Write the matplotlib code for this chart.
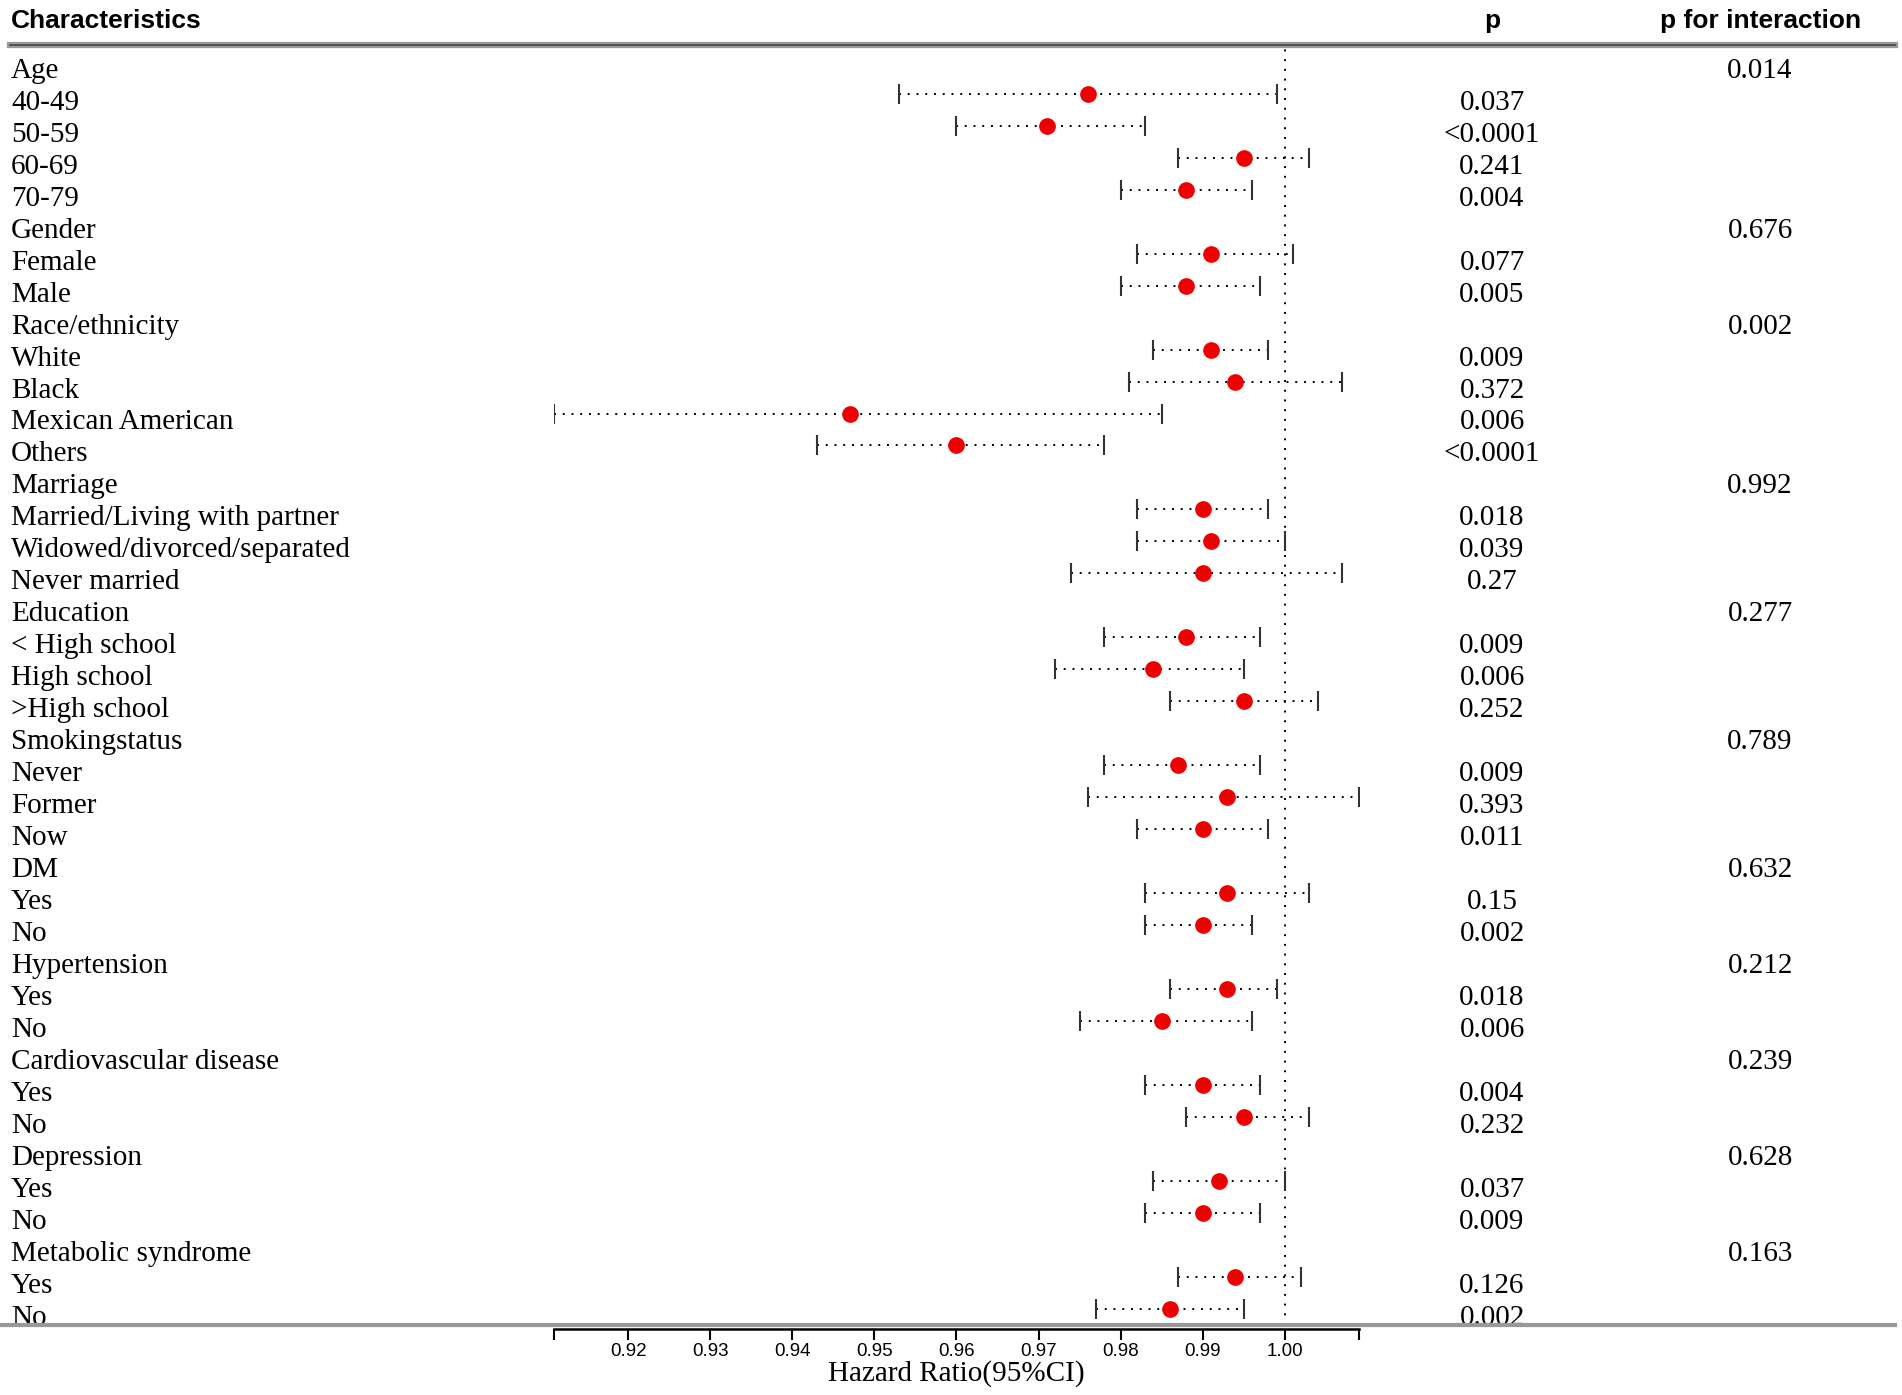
import numpy as np
import matplotlib
matplotlib.use("Agg")
import matplotlib.pyplot as plt
import matplotlib.transforms as mtransforms

labels = ["Age", "40-49", "50-59", "60-69", "70-79",
          "Gender", "Female", "Male",
          "Race/ethnicity", "White", "Black", "Mexican American", "Others",
          "Marriage", "Married/Living with partner", "Widowed/divorced/separated", "Never married",
          "Education", "< High school", "High school", ">High school",
          "Smokingstatus", "Never", "Former", "Now",
          "DM", "Yes", "No",
          "Hypertension", "Yes", "No",
          "Cardiovascular disease", "Yes", "No",
          "Depression", "Yes", "No",
          "Metabolic syndrome", "Yes", "No"]

# nan = header row (no estimate)
nan = np.nan
hr = [nan, 0.976, 0.971, 0.995, 0.988,
      nan, 0.991, 0.988,
      nan, 0.991, 0.994, 0.947, 0.960,
      nan, 0.990, 0.991, 0.990,
      nan, 0.988, 0.984, 0.995,
      nan, 0.987, 0.993, 0.990,
      nan, 0.993, 0.990,
      nan, 0.993, 0.985,
      nan, 0.990, 0.995,
      nan, 0.992, 0.990,
      nan, 0.994, 0.986]
lower = [nan, 0.953, 0.960, 0.987, 0.980,
         nan, 0.982, 0.980,
         nan, 0.984, 0.981, 0.911, 0.943,
         nan, 0.982, 0.982, 0.974,
         nan, 0.978, 0.972, 0.986,
         nan, 0.978, 0.976, 0.982,
         nan, 0.983, 0.983,
         nan, 0.986, 0.975,
         nan, 0.983, 0.988,
         nan, 0.984, 0.983,
         nan, 0.987, 0.977]
upper = [nan, 0.999, 0.983, 1.003, 0.996,
         nan, 1.001, 0.997,
         nan, 0.998, 1.007, 0.985, 0.978,
         nan, 0.998, 1.000, 1.007,
         nan, 0.997, 0.995, 1.004,
         nan, 0.997, 1.009, 0.998,
         nan, 1.003, 0.996,
         nan, 0.999, 0.996,
         nan, 0.997, 1.003,
         nan, 1.000, 0.997,
         nan, 1.002, 0.995]
p_vals = ["", "0.037", "<0.0001", "0.241", "0.004",
          "", "0.077", "0.005",
          "", "0.009", "0.372", "0.006", "<0.0001",
          "", "0.018", "0.039", "0.27",
          "", "0.009", "0.006", "0.252",
          "", "0.009", "0.393", "0.011",
          "", "0.15", "0.002",
          "", "0.018", "0.006",
          "", "0.004", "0.232",
          "", "0.037", "0.009",
          "", "0.126", "0.002"]
p_inter = ["0.014", "", "", "", "",
           "0.676", "", "",
           "0.002", "", "", "", "",
           "0.992", "", "", "",
           "0.277", "", "", "",
           "0.789", "", "", "",
           "0.632", "", "",
           "0.212", "", "",
           "0.239", "", "",
           "0.628", "", "",
           "0.163", "", ""]
ticks = [0.92, 0.93, 0.94, 0.95, 0.96, 0.97, 0.98, 0.99, 1.00]

hr = np.array(hr)
lower = np.array(lower)
upper = np.array(upper)
rows = np.arange(len(labels))

serif = ["Liberation Serif", "DejaVu Serif"]
narrow = ["Liberation Sans Narrow", "Liberation Sans", "DejaVu Sans"]
fs = 21

W, H = 1568.0, 1150.0  # layout measured on a scaled view of the target
fig = plt.figure(figsize=(19.02, 13.95), dpi=100)

x0 = np.nanmin(lower)
x1 = np.nanmax(upper)
ax = fig.add_axes([457 / W, 1 - 1092 / H, (1120 - 457) / W, (1092 - 37) / H])
row_h = 26.36
ax.set_ylim((1092 - 57) / row_h, (37 - 57) / row_h)
ax.set_xlim(x0, x1)

for s in ["top", "left", "right"]:
    ax.spines[s].set_visible(False)
ax.spines["bottom"].set_linewidth(1.8)
ax.spines["bottom"].set_position(("outward", 3))
ax.set_yticks([])
ax.set_xticks([x0] + ticks + [x1])
ax.set_xticklabels([""] + ["%.2f" % t for t in ticks] + [""], family=narrow, fontsize=13.5)
ax.tick_params(axis="x", direction="out", length=8, width=1.5, pad=2)
ax.set_xlabel("Hazard Ratio(95%CI)", family=serif, fontsize=fs, va="center")
ax.xaxis.set_label_coords(0.5, (1092 - 1132) / (1092 - 37))

ax.axvline(1.0, color="black", ls=(0, (1, 4)), lw=1.4)

has = ~np.isnan(hr)
ym = rows[has] - 0.23
ax.hlines(ym, lower[has], upper[has], colors="black", linestyles=(0, (1, 3.5)), lw=1.4)
ax.plot(lower[has], ym, ls="none", marker="|", ms=15, mew=1.5, color="#333333")
ax.plot(upper[has], ym, ls="none", marker="|", ms=15, mew=1.5, color="#333333")
ax.plot(hr[has], ym, ls="none", marker="o", ms=11, color="#ee0000", mec="#ee0000", zorder=5)

trans = mtransforms.blended_transform_factory(fig.transFigure, ax.transData)
for i, lab in enumerate(labels):
    ax.text(9 / W, i + 0.05, lab, transform=trans, family=serif, fontsize=fs,
            va="center", ha="left", clip_on=False)
    if p_vals[i]:
        ax.text(1230 / W, i + 0.05, p_vals[i], transform=trans, family=serif, fontsize=fs,
                va="center", ha="center", clip_on=False)
    if p_inter[i]:
        ax.text(1451 / W, i + 0.05, p_inter[i], transform=trans, family=serif, fontsize=fs,
                va="center", ha="center", clip_on=False)

fig.text(9 / W, 1 - 17 / H, "Characteristics", family=narrow, fontsize=19,
         weight="bold", va="center", ha="left")
fig.text(1230 / W, 1 - 17 / H, "p", family=narrow, fontsize=19,
         weight="bold", va="center", ha="center")
fig.text(1451 / W, 1 - 17 / H, "p for interaction", family=narrow, fontsize=19,
         weight="bold", va="center", ha="center")

fig.add_artist(plt.Line2D([8 / W, 1562 / W], [1 - 37 / H] * 2, transform=fig.transFigure,
                          color="#999999", lw=4.5))
fig.add_artist(plt.Line2D([8 / W, 1562 / W], [1 - 37 / H] * 2, transform=fig.transFigure,
                          color="#444444", lw=1.2))
fig.add_artist(plt.Line2D([0, 1562 / W], [1 - 1092 / H] * 2, transform=fig.transFigure,
                          color="#999999", lw=3))

fig.savefig("out.png", dpi=100)
